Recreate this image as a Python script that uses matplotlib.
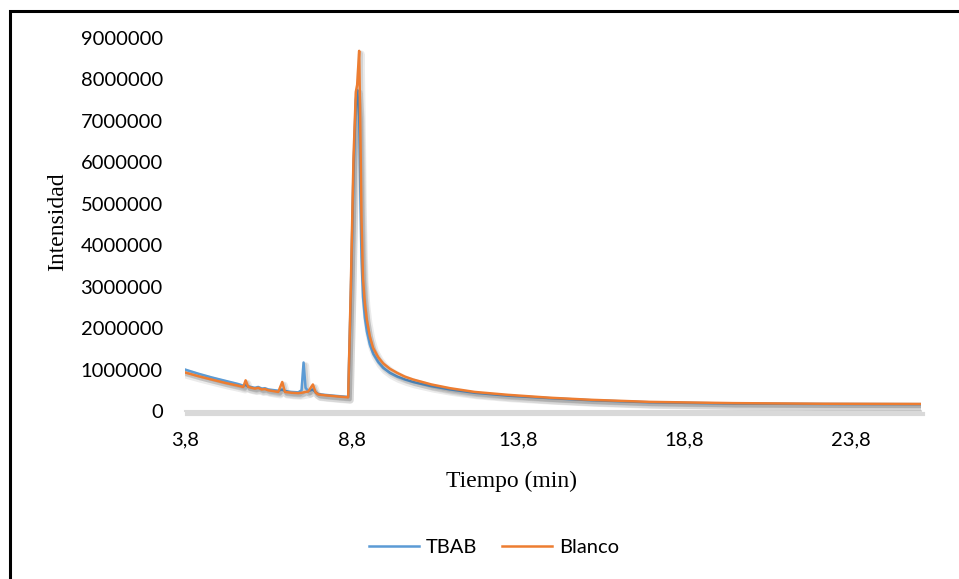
import matplotlib
matplotlib.use("Agg")
import matplotlib.pyplot as plt
import matplotlib.patheffects as pe
from matplotlib.patches import Rectangle
from matplotlib.lines import Line2D
import numpy as np

# ---- data (values in millions) ----
tiempo = [3.8, 4.2, 4.6, 5.0, 5.4, 5.55, 5.62, 5.7, 5.9, 6.0, 6.1, 6.2, 6.3, 6.6, 6.72,
          6.8, 7.0, 7.2, 7.3, 7.36, 7.42, 7.5, 7.64, 7.72, 7.8, 8.0, 8.4, 8.7, 8.78,
          8.86, 8.93, 8.97, 9.03, 9.07, 9.10, 9.145, 9.2, 9.26, 9.35, 9.45, 9.6, 9.75,
          9.95, 10.17, 10.4, 10.65, 11.2, 11.76, 12.5, 13.5, 14.76, 16.0, 17.76, 20.26,
          23.0, 25.9]
tbab_m = [1.00, 0.90, 0.81, 0.73, 0.65, 0.61, 0.63, 0.59, 0.56, 0.58, 0.54, 0.55, 0.52,
          0.49, 0.52, 0.48, 0.46, 0.45, 0.50, 1.17, 0.56, 0.48, 0.52, 0.45, 0.41, 0.39,
          0.36, 0.34, 2.8, 5.8, 7.5, 7.75, 7.1, 5.0, 3.7, 2.75, 2.25, 1.92, 1.6, 1.38,
          1.18, 1.04, 0.92, 0.83, 0.76, 0.70, 0.60, 0.52, 0.44, 0.37, 0.31, 0.26, 0.21,
          0.18, 0.17, 0.165]
blanco_m = [0.93, 0.84, 0.76, 0.68, 0.61, 0.58, 0.74, 0.58, 0.54, 0.56, 0.52, 0.53, 0.50,
            0.46, 0.70, 0.46, 0.44, 0.43, 0.44, 0.45, 0.46, 0.47, 0.64, 0.45, 0.40, 0.38,
            0.35, 0.33, 3.0, 6.1, 7.7, 7.87, 8.69, 6.5, 4.6, 3.2, 2.6, 2.2, 1.8, 1.52,
            1.30, 1.15, 1.02, 0.92, 0.83, 0.76, 0.64, 0.55, 0.46, 0.39, 0.32, 0.27, 0.22,
            0.19, 0.175, 0.17]
series_names = ["TBAB", "Blanco"]
series_colors = ["#5B9BD5", "#ED7D31"]
x_ticks = [3.8, 8.8, 13.8, 18.8, 23.8]
x_tick_labels = ["3,8", "8,8", "13,8", "18,8", "23,8"]
y_ticks = [0, 1000000, 2000000, 3000000, 4000000, 5000000, 6000000, 7000000, 8000000, 9000000]
y_tick_labels = [str(v) for v in y_ticks]

tbab = np.array(tbab_m) * 1e6
blanco = np.array(blanco_m) * 1e6

W, H = 959, 579
fig = plt.figure(figsize=(W / 100, H / 100), dpi=100)
fig.patch.set_facecolor("white")

def fx(px):
    return px / W

def fy(py):
    return 1 - py / H

ax = fig.add_axes([fx(185), fy(411), fx(921 - 185), (411 - 38) / H])
ax.set_xlim(3.8, 25.9)
ax.set_ylim(0, 9000000)

shadow = [pe.SimpleLineShadow(offset=(1.5, -2.2), shadow_color="#000000", alpha=0.08, linewidth=5),
          pe.SimpleLineShadow(offset=(1.2, -1.6), shadow_color="#000000", alpha=0.10, linewidth=2.8),
          pe.Normal()]

ax.plot(tiempo, tbab, color=series_colors[0], lw=1.8, path_effects=shadow,
        solid_joinstyle="round", zorder=3)
ax.plot(tiempo, blanco, color=series_colors[1], lw=1.8, path_effects=shadow,
        solid_joinstyle="round", zorder=4)

for s in ["top", "right", "left"]:
    ax.spines[s].set_visible(False)
ax.spines["bottom"].set_color("#d9d9d9")
ax.spines["bottom"].set_linewidth(1.5)
ax.spines["bottom"].set_path_effects([pe.SimpleLineShadow(offset=(1.5, -2), shadow_color="#000000", alpha=0.15, linewidth=3), pe.Normal()])

tick_font = dict(family="Lato", size=14.5, color="#000000")
ax.set_xticks(x_ticks)
ax.set_xticklabels(x_tick_labels, **tick_font)
ax.set_yticks(y_ticks)
ax.set_yticklabels(y_tick_labels, **tick_font)
ax.tick_params(axis="both", length=0)
ax.tick_params(axis="y", pad=16)
ax.tick_params(axis="x", pad=15)

fig.text(fx(58), fy(222), "Intensidad", rotation=90, ha="center", va="center",
         family="Liberation Serif", size=17)
fig.text(fx(512), fy(481), "Tiempo (min)", ha="center", va="center",
         family="Liberation Serif", size=17)

handles = [Line2D([], [], color=c, lw=1.8) for c in series_colors]
leg = fig.legend(handles, series_names, loc="center", bbox_to_anchor=(fx(494), fy(547)),
                 ncol=2, frameon=False, prop=dict(family="Lato", size=14.5),
                 handlelength=2.5, handletextpad=0.35, columnspacing=1.2)

# outer black frame (extends beyond right and bottom edges)
fig.patches.append(Rectangle((fx(9.5), fy(H + 20)), fx(W + 40), (H + 20 - 10.5) / H,
                             transform=fig.transFigure, fill=False, edgecolor="black",
                             linewidth=2.2, zorder=10))

fig.savefig("out.png", dpi=100)
